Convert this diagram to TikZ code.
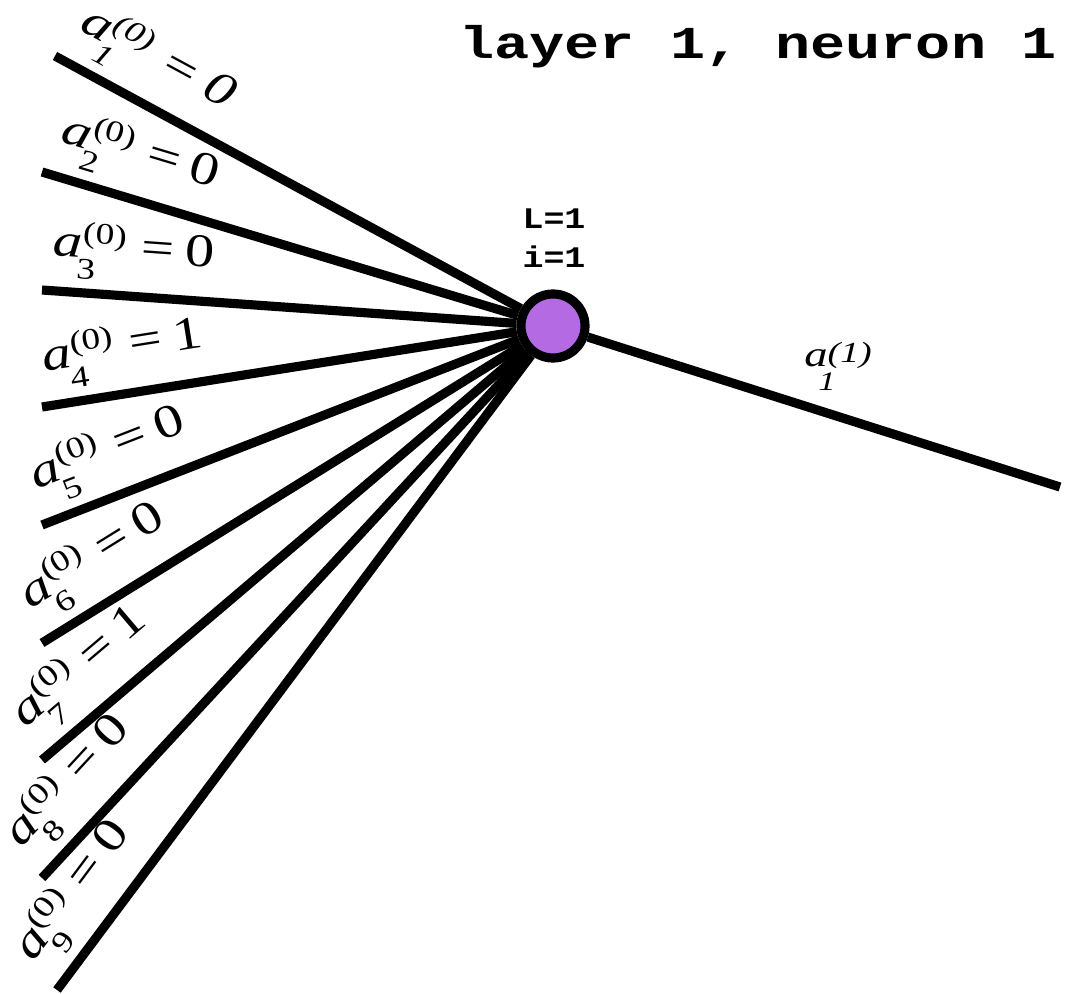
\documentclass[tikz,border=0pt]{standalone}
\usepackage{graphicx}
\usepackage{fontspec}
\setmainfont{Liberation Serif}
\newfontfamily\codefont{Liberation Mono}
\usetikzlibrary{positioning}
\definecolor{neuronfill}{RGB}{179,106,226}
% input activation label: [style] sub, sup, value
\newcommand{\actv}[4][]{\scalebox{1.25}[1]{#1\textit{a}\rlap{\kern-1pt\raisebox{-6pt}{\fontsize{8.5}{9}\selectfont #2}}\raisebox{4.3pt}{\fontsize{8.5}{9}\selectfont (#3)}\kern3.5pt=\kern2.5pt#4}}
\tikzset{
  wire/.style={line width=2.6pt, draw=black},
  neuron/.style={circle, draw=black, line width=2.6pt, fill=neuronfill, minimum size=0.64cm, inner sep=0pt},
  inlabel/.style={pos=0, sloped, anchor=south west, inner xsep=1pt, inner ysep=2.5pt, font=\fontsize{13.3}{16}\selectfont},
  outlabel/.style={pos=0.53, anchor=south, inner sep=6pt, font=\fontsize{10.2}{12}\selectfont},
  title/.style={font=\codefont\bfseries\fontsize{13}{15}\selectfont},
  tag/.style={font=\codefont\bfseries\fontsize{8.5}{11}\selectfont, align=center}
}
\begin{document}
\begin{tikzpicture}[x=0.01cm, y=-0.01cm]
  \useasboundingbox (0,0) rectangle (1075,994);
  % title
  \node[title] (head) at (758,47) {\scalebox{1.28}[1]{layer 1, neuron 1}};

  % neuron
  \node[neuron] (n) at (553,326) {};
  \node[tag] (idx) at (554,238) {\scalebox{1.17}[1]{L=1}\\\scalebox{1.17}[1]{i=1}};

  % inputs
  \coordinate (in1) at (55,56);
  \coordinate (in2) at (42,172);
  \coordinate (in3) at (42,290);
  \coordinate (in4) at (42,407);
  \coordinate (in5) at (42,525);
  \coordinate (in6) at (42,643);
  \coordinate (in7) at (42,760);
  \coordinate (in8) at (42,878);
  \coordinate (in9) at (57,990);
  \draw[wire] (in1) -- node[inlabel] {\actv[\itshape]{1}{0}{0}} (n);
  \draw[wire] (in2) -- node[inlabel] {\actv{2}{0}{0}} (n);
  \draw[wire] (in3) -- node[inlabel] {\actv{3}{0}{0}} (n);
  \draw[wire] (in4) -- node[inlabel] {\actv{4}{0}{1}} (n);
  \draw[wire] (in5) -- node[inlabel] {\actv{5}{0}{0}} (n);
  \draw[wire] (in6) -- node[inlabel] {\actv{6}{0}{0}} (n);
  \draw[wire] (in7) -- node[inlabel] {\actv{7}{0}{1}} (n);
  \draw[wire] (in8) -- node[inlabel] {\actv{8}{0}{0}} (n);
  \draw[wire] (in9) -- node[inlabel] {\actv{9}{0}{0}} (n);

  % output
  \coordinate (out) at (1060,487);
  \draw[wire] (n) -- node[outlabel] {\scalebox{1.3}[1]{\itshape a\rlap{\kern-2pt\raisebox{-7pt}{\fontsize{7.6}{8}\selectfont 1}}\raisebox{1pt}{\fontsize{8.3}{9}\selectfont (1)}}} (out);
\end{tikzpicture}
\end{document}
